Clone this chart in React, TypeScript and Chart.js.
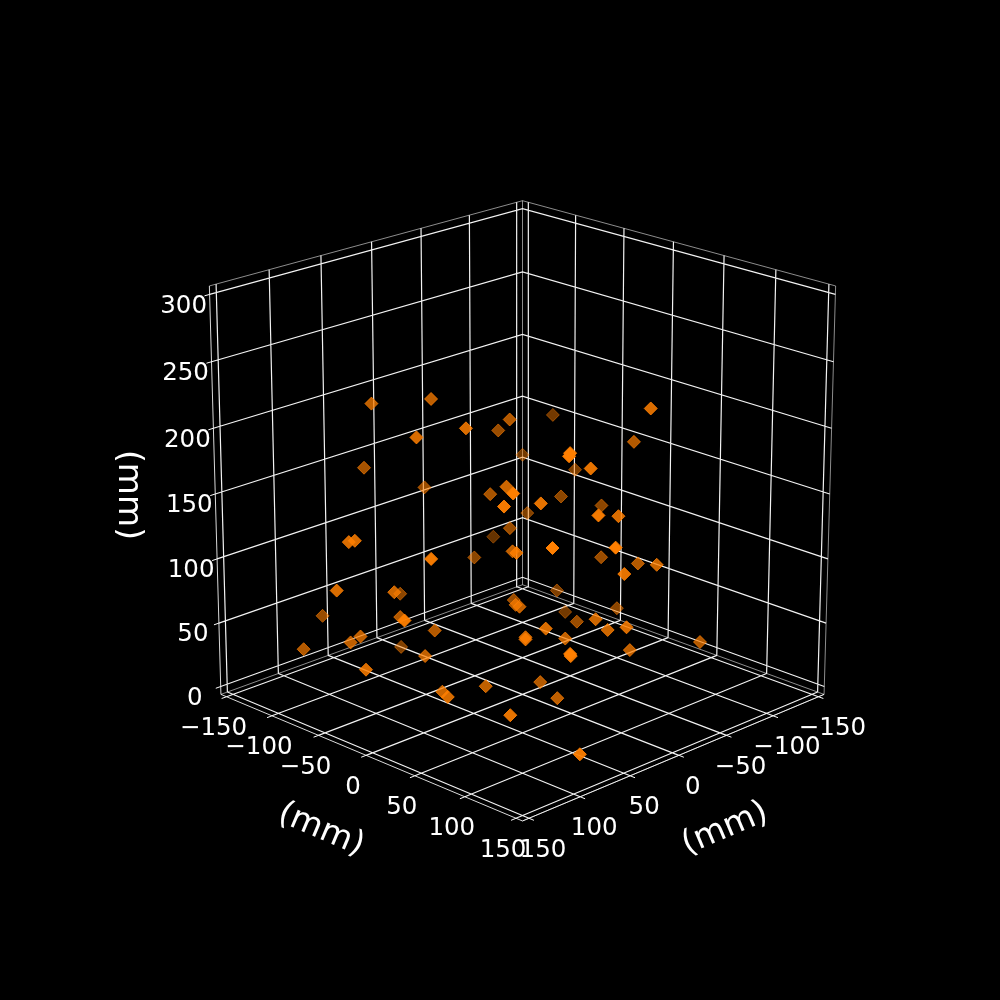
import React, { useEffect, useRef } from 'react';
import { Chart, registerables } from 'chart.js';

Chart.register(...registerables);

const tickValues = [-150, -100, -50, 0, 50, 100, 150];
const zTickValues = [0, 50, 100, 150, 200, 250, 300];

// scatter values in mm, depth estimated from how faded each marker is
const xValues = [
  81, 93, 67, 25, 50, 67, -1, -23, -99, -76, 7, 42, 99, 91, 57, -59, -53, 65, 66, -28,
  -60, -86, 27, -78, 46, 6, 144, 141, 158, 100, 116, 42, 89, 158, 126, 132, 143, 37, 135, -12,
  -60, -3, 35, 63, 89, -55, -1, 28, 41, -70, 74, 61, 58, 73, 24, 58, -54, -41, -20, 28,
  -68, -30, 20, 16, 21, -59, -7, 157, 97, 109, 121, 72, 108, 29, 38, 91, 98, 83,
];
const yValues = [
  -71, -12, -95, -76, -42, 11, -14, -48, -67, -76, -26, 26, 90, 73, 75, -19, -48, 111, 111, 99,
  53, -31, 94, 4, 120, 101, -28, -25, -26, -106, -12, -85, -35, 43, -37, -41, -79, -90, 46, -25,
  -91, -53, 25, 57, 118, -19, -10, 21, 38, -25, -15, 84, 61, 76, 67, 148, 27, 76, 114, 128,
  30, 26, 93, 101, 124, 121, 101, 2, -1, 29, 47, 35, 96, 47, 73, 147, 144, 130,
];
const zValues = [
  221, 213, 163, 142, 224, 219, 203, 181, 170, 142, 145, 173, 199, 183, 177, 128, 109, 225, 223, 232,
  188, 139, 200, 122, 177, 161, 144, 145, 112, 54, 103, 61, 70, 109, 65, 61, 48, 16, 149, 114,
  77, 86, 122, 137, 164, 55, 65, 78, 85, 32, 61, 87, 73, 80, 64, 164, 94, 106, 121, 131,
  51, 50, 85, 78, 88, 53, 56, 60, 52, 37, 42, 32, 39, 26, 24, 20, 96, 86,
];

// camera: elev 20, azim 45, box is a cube
const EL = (20 * Math.PI) / 180;
const C = Math.cos(EL);
const S = Math.sin(EL);
const HALF = 156.25;
const BOX = 0.55;
const DIST = 10;
const PX = 395;
const CX = 522.5;
const CY = 494;
const NEAR = 0.5;
const FAR = -0.6;

const project = (x: number, y: number, z: number) => {
  const nx = (x / HALF) * BOX;
  const ny = (y / HALF) * BOX;
  const nz = ((z - 150) / HALF) * BOX;
  const u = (ny - nx) / Math.SQRT2;
  const f = (nx + ny) / Math.SQRT2;
  const v = nz * C - f * S;
  const q = f * C + nz * S;
  const w = 1 / (1 - q / DIST);
  return { x: u * w, y: v * w, q };
};

const path = (segs: number[][][]) => {
  const out: any[] = [];
  segs.forEach((seg) => {
    seg.forEach((p) => {
      const r = project(p[0], p[1], p[2]);
      out.push({ x: r.x, y: r.y });
    });
    out.push({ x: NaN, y: NaN });
  });
  return out;
};

const lo = -HALF;
const hi = HALF;
const zlo = 150 - HALF;
const zhi = 150 + HALF;
const TICK = 161;

const gridSegs: number[][][] = [];
tickValues.forEach((t) => {
  gridSegs.push([[t, lo, zlo], [t, hi, zlo]]);
  gridSegs.push([[lo, t, zlo], [hi, t, zlo]]);
  gridSegs.push([[t, lo, zlo], [t, lo, zhi]]);
  gridSegs.push([[lo, t, zlo], [lo, t, zhi]]);
});
zTickValues.forEach((t) => {
  gridSegs.push([[hi, lo, t], [lo, lo, t], [lo, hi, t]]);
});

const tickSegs: number[][][] = [];
tickValues.forEach((t) => {
  tickSegs.push([[hi, t, zlo], [TICK, t, zlo]]);
  tickSegs.push([[t, hi, zlo], [t, TICK, zlo]]);
});
zTickValues.forEach((t) => {
  tickSegs.push([[hi, lo, t], [TICK, lo, t]]);
});

const paneSegs: number[][][] = [
  [[hi, lo, zhi], [lo, lo, zhi], [lo, hi, zhi]],
  [[lo, lo, zlo], [lo, lo, zhi]],
  [[hi, hi, zlo], [lo, hi, zlo], [lo, hi, zhi]],
  [[hi, lo, zlo], [lo, lo, zlo], [lo, hi, zlo]],
];
const axisSegs: number[][][] = [
  [[hi, lo, zhi], [hi, lo, zlo], [hi, hi, zlo], [lo, hi, zlo]],
];

const fmt = (t: number) => (t < 0 ? `\u2212${-t}` : `${t}`);

const textPlugin = {
  id: 'axisText',
  afterDatasetsDraw(chart: any) {
    const { ctx, scales } = chart;
    const at = (p: { x: number; y: number }) => [scales.x.getPixelForValue(p.x), scales.y.getPixelForValue(p.y)];
    ctx.save();
    ctx.fillStyle = '#ffffff';
    ctx.textAlign = 'center';
    ctx.textBaseline = 'middle';
    ctx.font = '24.5px "DejaVu Sans"';
    tickValues.forEach((t) => {
      const [lx, ly] = at(project(hi, t, zlo));
      ctx.fillText(fmt(t), lx - 13, ly + 32);
      const [rx, ry] = at(project(t, hi, zlo));
      ctx.fillText(fmt(t), rx + 14, ry + 32);
    });
    zTickValues.forEach((t) => {
      const [zx, zy] = at(project(hi, lo, t));
      ctx.fillText(fmt(t), zx - 26, zy + 12);
    });
    ctx.font = '33px "DejaVu Sans"';
    const label = (text: string, x: number, y: number, deg: number) => {
      ctx.save();
      ctx.translate(x, y);
      ctx.rotate((deg * Math.PI) / 180);
      ctx.fillText(text, 0, 0);
      ctx.restore();
    };
    label('(mm)', 321, 830, 23);
    label('(mm)', 725, 829, -23);
    label('(mm)', 128, 495, 90);
    ctx.restore();
  },
};

const lineSet = (data: any[], color: string, width: number, order: number) => ({
  type: 'scatter' as const,
  data,
  showLine: true,
  spanGaps: false,
  borderColor: color,
  borderWidth: width,
  pointRadius: 0,
  order,
});

const App: React.FC = () => {
  const canvasRef = useRef<HTMLCanvasElement>(null);

  useEffect(() => {
    if (!canvasRef.current) return;
    document.body.style.margin = '0';
    document.body.style.background = '#000';

    const points = xValues
      .map((x, i) => project(x, yValues[i], zValues[i]))
      .sort((a, b) => a.q - b.q);
    const colors = points.map((p) => {
      const a = Math.min(1, Math.max(0.3, 0.3 + (0.7 * (p.q - FAR)) / (NEAR - FAR)));
      return `rgba(255,127,0,${a.toFixed(3)})`;
    });

    const chart = new Chart(canvasRef.current, {
      type: 'scatter',
      data: {
        datasets: [
          {
            data: points.map((p) => ({ x: p.x, y: p.y })),
            pointStyle: 'rectRot',
            pointRadius: 6.5,
            pointBackgroundColor: colors,
            pointBorderColor: colors,
            pointBorderWidth: 1,
            order: 0,
          },
          lineSet(path(tickSegs), '#ffffff', 1, 1),
          lineSet(path(axisSegs), 'rgba(255,255,255,0.85)', 1, 2),
          lineSet(path(gridSegs), 'rgba(255,255,255,0.95)', 1.2, 3),
          lineSet(path(paneSegs), 'rgba(255,255,255,0.55)', 1, 4),
        ] as any,
      },
      options: {
        animation: false,
        responsive: false,
        layout: { padding: 0, autoPadding: false },
        plugins: { legend: { display: false }, tooltip: { enabled: false } },
        scales: {
          x: { type: 'linear', display: false, min: -CX / PX, max: (1000 - CX) / PX },
          y: { type: 'linear', display: false, min: (CY - 1000) / PX, max: CY / PX },
        },
      },
      plugins: [textPlugin],
    });

    return () => chart.destroy();
  }, []);

  return <canvas ref={canvasRef} width={1000} height={1000} style={{ display: 'block' }} />;
};

export default App;
